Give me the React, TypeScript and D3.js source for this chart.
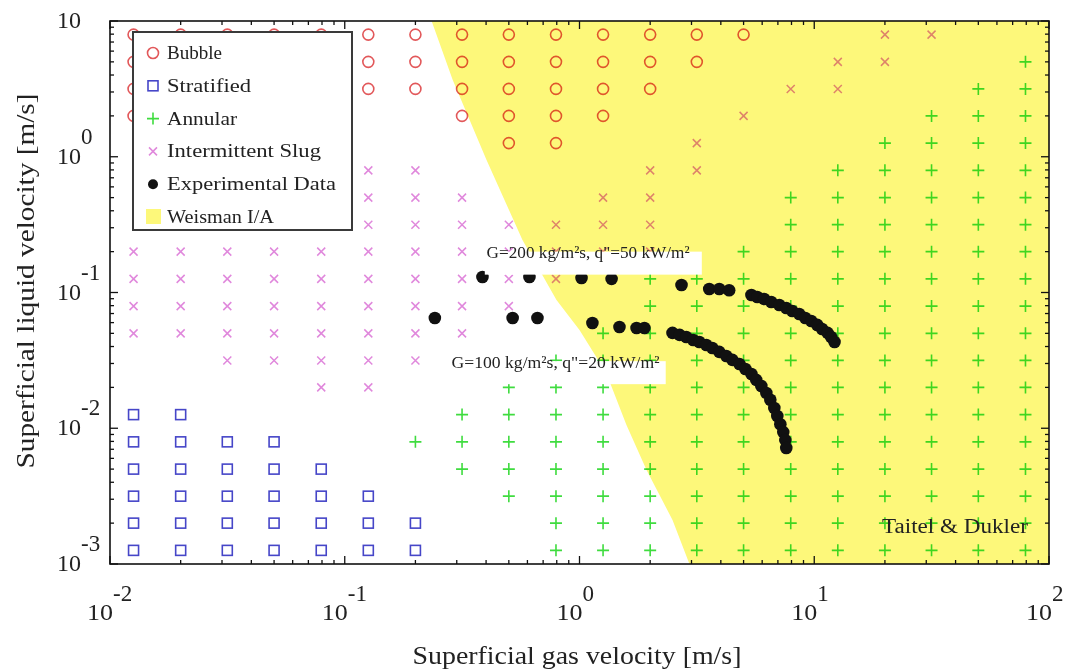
import React from "react";
import * as d3 from "d3";

const WIDTH = 1065;
const HEIGHT = 672;
const PLOT = { left: 110, right: 1049, top: 21, bottom: 564 };
const FONT = "'Liberation Serif', 'Times New Roman', serif";

// Test grid of the flow map: superficial gas velocity columns [m/s]
const UG_GRID = [
  0.0126, 0.02, 0.0316, 0.05, 0.0794, 0.126, 0.2, 0.316, 0.5, 0.794,
  1.26, 2.0, 3.16, 5.0, 7.94, 12.6, 20, 31.6, 50, 79.4,
];
// ... and superficial liquid velocity rows [m/s], top to bottom
const UL_GRID = [
  7.94, 5.0, 3.16, 2.0, 1.26, 0.794, 0.5, 0.316, 0.2, 0.126,
  0.0794, 0.05, 0.0316, 0.02, 0.0126, 0.00794, 0.005, 0.00316, 0.002, 0.00126,
];
// Taitel & Dukler regime at each grid point, one string per liquid row:
// B bubble, S stratified, A annular, I intermittent slug, . none
const REGIME_MAP = [
  "BBBBBBBBBBBBBB..II..",
  "BBBBBBBBBBBBB..II..A",
  "BBBBBBBBBBBB..II..AA",
  "B......BBBB..I...AAA",
  "........BB..I...AAAA",
  ".....II....II..AAAAA",
  ".....III..II..AAAAAA",
  ".....IIIIIII..AAAAAA",
  "IIIIIIIIIIII.AAAAAAA",
  "IIIIIIIIII.AAAAAAAAA",
  "IIIIIIIII..AAAAAAAAA",
  "IIIIIIII..AAAAAAAAAA",
  "..IIIII..AAAAAAAAAAA",
  "....II..AAAAAAAAAAAA",
  "SS.....AAAAAAAAAAAAA",
  "SSSS..AAAAAAAAAAAAAA",
  "SSSSS..AAAAAAAAAAAAA",
  "SSSSSS..AAAAAAAAAAAA",
  "SSSSSSS..AAAAAAAAAAA",
  "SSSSSSS..AAAAAAAAAAA",
];

// Experimental data, G = 200 kg/m2s, q" = 50 kW/m2
const RUN200_UG = [
  0.386, 0.612, 1.02, 1.37, 2.72, 3.57, 3.94, 4.34, 5.4, 5.72, 6.12, 6.56,
  7.1, 7.6, 8.06, 8.63, 9.16, 9.71, 10.3, 10.8, 11.4, 11.8, 12.2,
];
const RUN200_UL = [
  0.13, 0.13, 0.128, 0.126, 0.1135, 0.106, 0.106, 0.104, 0.0959, 0.0927,
  0.0896, 0.0851, 0.0809, 0.0769, 0.0731, 0.0695, 0.0649, 0.0617, 0.0577,
  0.0539, 0.0504, 0.047, 0.0432,
];
// Experimental data, G = 100 kg/m2s, q" = 20 kW/m2
const RUN100_UG = [
  0.242, 0.519, 0.662, 1.135, 1.48, 1.75, 1.89, 2.49, 2.67, 2.85, 3.05, 3.24,
  3.47, 3.68, 3.94, 4.22, 4.48, 4.8, 5.09, 5.4, 5.66, 5.95, 6.25, 6.5, 6.76,
  6.96, 7.17, 7.38, 7.53, 7.6,
];
const RUN100_UL = [
  0.0649, 0.0649, 0.0649, 0.0596, 0.0557, 0.0547, 0.0547, 0.0504, 0.0487,
  0.047, 0.0447, 0.0432, 0.041, 0.039, 0.0365, 0.0341, 0.0319, 0.0297,
  0.0273, 0.0251, 0.0227, 0.0205, 0.0182, 0.0162, 0.0141, 0.0123, 0.0107,
  0.00937, 0.00818, 0.00716,
];

// Weisman intermittent / annular transition
const WEISMAN_UG = [0.2344, 0.2884, 0.4018, 0.5715, 0.798, 1.0, 1.3, 1.585, 1.93, 2.49, 2.94];
const WEISMAN_UL = [10, 3.676, 0.946, 0.2438, 0.0881, 0.0529, 0.0255, 0.01057, 0.00493, 0.00211, 0.001];

const X_EXPONENTS = [-2, -1, 0, 1, 2];
// the top label reads plain "10" (= 10^1)
const Y_EXPONENTS = [-3, -2, -1, 0];
const Y_TOP_LABEL = 10;

const LEGEND = [
  { key: "B", label: "Bubble", len: 55 },
  { key: "S", label: "Stratified", len: 84 },
  { key: "A", label: "Annular", len: 70 },
  { key: "I", label: "Intermittent Slug", len: 154 },
  { key: "D", label: "Experimental Data", len: 169 },
  { key: "W", label: "Weisman I/A", len: 107 },
];

const COLORS = {
  B: "#e2585a",
  S: "#4646c8",
  A: "#3fdc3f",
  I: "#e088dc",
  D: "#111111",
  W: "#fdf87a",
};

function Marker({ kind, cx, cy }: { kind: string; cx: number; cy: number }) {
  const t = `translate(${cx},${cy})`;
  if (kind === "B")
    return <circle transform={t} r={5.5} fill="none" stroke={COLORS.B} strokeWidth={1.6} />;
  if (kind === "S")
    return <rect transform={t} x={-5} y={-5} width={10} height={10} fill="none" stroke={COLORS.S} strokeWidth={1.6} />;
  if (kind === "A")
    return <path transform={t} d="M-6,0H6M0,-6V6" stroke={COLORS.A} strokeWidth={1.6} />;
  if (kind === "I")
    return <path transform={t} d="M-4,-4L4,4M-4,4L4,-4" stroke={COLORS.I} strokeWidth={1.5} />;
  if (kind === "D") return <circle transform={t} r={5} fill={COLORS.D} />;
  return <rect transform={t} x={-7} y={-8} width={15} height={15} fill={COLORS.W} />;
}

export default function App() {
  const x = d3.scaleLog().domain([1e-2, 1e2]).range([PLOT.left, PLOT.right]);
  const y = d3.scaleLog().domain([1e-3, 1e1]).range([PLOT.bottom, PLOT.top]);

  const gridPoints: { ug: number; ul: number; kind: string }[] = [];
  REGIME_MAP.forEach((row, j) =>
    row.split("").forEach((c, i) => {
      if (c !== ".") gridPoints.push({ ug: UG_GRID[i], ul: UL_GRID[j], kind: c });
    })
  );

  const boundary: [number, number][] = WEISMAN_UG.map((u, i) => [x(u), y(WEISMAN_UL[i])]);
  const region = d3.line()([
    ...boundary,
    [x(1e2), y(1e-3)],
    [x(1e2), y(1e1)],
  ]) + "Z";

  const run200 = RUN200_UG.map((u, i) => [x(u), y(RUN200_UL[i])]);
  const run100 = RUN100_UG.map((u, i) => [x(u), y(RUN100_UL[i])]);

  const isMajor = (v: number) => Math.abs(Math.log10(v) - Math.round(Math.log10(v))) < 1e-9;
  const xTicks = x.ticks();
  const yTicks = y.ticks();

  const legendX = 133;
  const legendY = 32;
  const fit = "spacingAndGlyphs";

  return (
    <svg
      width={WIDTH}
      height={HEIGHT}
      style={{ position: "absolute", left: 0, top: 0, background: "#fff" }}
      fontFamily={FONT}
    >
      <rect width={WIDTH} height={HEIGHT} fill="#fff" />

      {/* regime map grid */}
      <g>
        {gridPoints.map((p, k) => (
          <Marker key={k} kind={p.kind} cx={x(p.ug)} cy={y(p.ul)} />
        ))}
      </g>

      {/* Weisman I/A region */}
      <path d={region} fill={COLORS.W} style={{ mixBlendMode: "multiply" }} />

      {/* experimental runs */}
      <g fill={COLORS.D}>
        {run200.map((p, k) => (
          <circle key={"a" + k} cx={p[0]} cy={p[1]} r={6.3} />
        ))}
        {run100.map((p, k) => (
          <circle key={"b" + k} cx={p[0]} cy={p[1]} r={6.3} />
        ))}
      </g>

      {/* run labels */}
      <g fontSize={17} fill="#222">
        <rect x={x(0.395)} y={y(0.2)} width={217} height={23} fill="#fff" />
        <text x={x(0.402)} y={y(0.1795)} textLength={203} lengthAdjust={fit}>
          G=200 kg/m²s, q"=50 kW/m²
        </text>
        <rect x={x(0.28)} y={y(0.0312)} width={216} height={23} fill="#fff" />
        <text x={x(0.285)} y={y(0.0278)} textLength={208} lengthAdjust={fit}>
          G=100 kg/m²s, q"=20 kW/m²
        </text>
      </g>

      <text
        x={PLOT.right - 21}
        y={PLOT.bottom - 31}
        fontSize={20}
        fill="#222"
        textAnchor="end"
        textLength={146}
        lengthAdjust={fit}
      >
        Taitel &amp; Dukler
      </text>

      {/* frame and ticks */}
      <g stroke="#111" strokeWidth={1.3}>
        {xTicks.map((t, k) => {
          const len = isMajor(t) ? 8 : 4;
          const px = x(t);
          return (
            <g key={"x" + k}>
              <line x1={px} x2={px} y1={PLOT.bottom} y2={PLOT.bottom - len} />
              <line x1={px} x2={px} y1={PLOT.top} y2={PLOT.top + len} />
            </g>
          );
        })}
        {yTicks.map((t, k) => {
          const len = isMajor(t) ? 8 : 4;
          const py = y(t);
          return (
            <g key={"y" + k}>
              <line x1={PLOT.left} x2={PLOT.left + len} y1={py} y2={py} />
              <line x1={PLOT.right} x2={PLOT.right - len} y1={py} y2={py} />
            </g>
          );
        })}
        <rect
          x={PLOT.left}
          y={PLOT.top}
          width={PLOT.right - PLOT.left}
          height={PLOT.bottom - PLOT.top}
          fill="none"
          strokeWidth={1.6}
        />
      </g>

      {/* tick labels */}
      <g fontSize={23} fill="#222">
        {X_EXPONENTS.map((e) => {
          const px = x(Math.pow(10, e));
          return (
            <g key={"xl" + e}>
              <text x={px + 3} y={620} textAnchor="end" textLength={26} lengthAdjust={fit}>
                10
              </text>
              <text x={px + 3} y={601}>{String(e)}</text>
            </g>
          );
        })}
        {Y_EXPONENTS.map((e) => {
          const py = y(Math.pow(10, e));
          return (
            <g key={"yl" + e}>
              <text x={PLOT.left - 29} y={py + 7} textAnchor="end" textLength={24} lengthAdjust={fit}>
                10
              </text>
              <text x={PLOT.left - 29} y={py - 13}>{String(e)}</text>
            </g>
          );
        })}
        <text
          x={PLOT.left - 29}
          y={y(Y_TOP_LABEL) + 7}
          textAnchor="end"
          textLength={24}
          lengthAdjust={fit}
        >
          {String(Y_TOP_LABEL)}
        </text>
      </g>

      {/* axis titles */}
      <text x={577} y={664} fontSize={25} fill="#222" textAnchor="middle" textLength={329} lengthAdjust={fit}>
        Superficial gas velocity [m/s]
      </text>
      <text
        transform="translate(34,281) rotate(-90)"
        fontSize={25}
        fill="#222"
        textAnchor="middle"
        textLength={375}
        lengthAdjust={fit}
      >
        Superficial liquid velocity [m/s]
      </text>

      {/* legend */}
      <g>
        <rect x={legendX} y={legendY} width={219} height={198} fill="#fff" stroke="#3a3a3a" strokeWidth={2} />
        {LEGEND.map((item, i) => {
          const base = 59 + i * 32.8;
          return (
            <g key={item.key}>
              <Marker kind={item.key} cx={legendX + 20} cy={base - 6} />
              <text x={legendX + 34} y={base} fontSize={19} fill="#222" textLength={item.len} lengthAdjust={fit}>
                {item.label}
              </text>
            </g>
          );
        })}
      </g>
    </svg>
  );
}
